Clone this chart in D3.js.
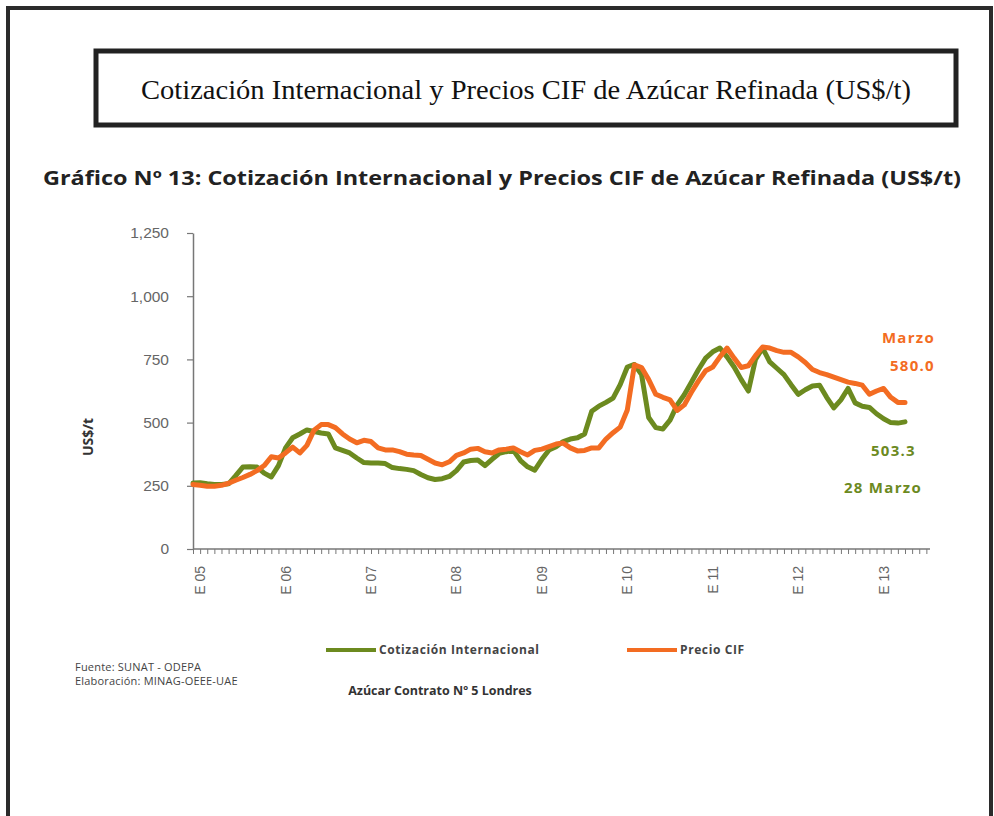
<!DOCTYPE html>
<html><head><meta charset="utf-8">
<script src="https://cdn.jsdelivr.net/npm/d3@7"></script>
<style>
html,body{margin:0;padding:0;background:#fff;}
svg{display:block;}
</style></head>
<body>
<svg id="c" width="994" height="816"></svg>
<script>
// ---- data (monthly, Dic 2004 .. Abr 2013) ----
const months = (function(){const a=[];let y=2004,m=12;for(let i=0;i<101;i++){a.push(y+"-"+String(m).padStart(2,"0"));m++;if(m>12){m=1;y++;}}return a;})();
const cotizacion = [261,262,258,255,255,258,290,324,325,324,300,285,330,400,440,455,471,465,459,455,
400,390,380,360,342,340,340,338,322,318,315,310,295,282,275,278,287,310,344,350,
352,330,355,378,385,390,350,325,312,355,392,405,425,435,440,455,545,565,580,597,
650,720,730,690,520,480,475,510,570,610,660,710,755,780,795,760,720,670,625,750,
795,740,715,690,650,612,630,645,648,600,558,590,635,578,565,560,535,515,500,498,503];
const precioCIF = [255,252,248,248,252,260,272,283,295,310,330,365,360,380,403,380,410,470,492,492,
480,455,435,420,430,425,400,392,392,385,375,372,370,355,340,333,345,370,380,395,
398,385,380,392,395,400,385,372,390,395,405,415,419,400,388,390,400,400,435,460,
482,550,728,718,670,612,600,590,548,570,620,665,705,720,760,795,755,718,725,765,
799,795,785,778,778,760,738,710,698,690,680,670,660,655,648,612,625,635,600,580,580];
const yTicks = [0,250,500,750,1000,1250];
const yearLabels = ["E 05","E 06","E 07","E 08","E 09","E 10","E 11","E 12","E 13"];
const seriesNames = ["Cotización Internacional","Precio CIF"];
const colors = ["#6c8a1f","#f36c22"];

const svg = d3.select("#c");
const SANS = "'Open Sans',Lato,sans-serif";

// outer frame
svg.append("rect").attr("x",8).attr("y",8).attr("width",983).attr("height",830)
  .attr("fill","none").attr("stroke","#2b2b2b").attr("stroke-width",4);

// title box
svg.append("rect").attr("x",96).attr("y",51).attr("width",860).attr("height",74)
  .attr("fill","#fff").attr("stroke","#222").attr("stroke-width",5);
svg.append("text").attr("x",526).attr("y",99).attr("text-anchor","middle")
  .attr("font-family","'Liberation Serif','DejaVu Serif',serif").attr("font-size",28)
  .attr("textLength",770).attr("lengthAdjust","spacingAndGlyphs")
  .attr("fill","#111").text("Cotización Internacional y Precios CIF de Azúcar Refinada (US$/t)");

// chart title
svg.append("text").attr("x",502).attr("y",185).attr("text-anchor","middle")
  .attr("font-family",SANS).attr("font-weight","bold").attr("font-size",20)
  .attr("textLength",918).attr("lengthAdjust","spacingAndGlyphs")
  .attr("fill","#222").text("Gráfico Nº 13: Cotización Internacional y Precios CIF de Azúcar Refinada (US$/t)");

// scales
const x = d3.scaleLinear().domain([0,100]).range([193,905]);
const y = d3.scaleLinear().domain([0,1250]).range([549,233]);

// y axis
const yAxis = svg.append("g").attr("transform","translate(193,0)")
  .call(d3.axisLeft(y).tickValues(yTicks).tickFormat(d3.format(",")).tickSize(6).tickSizeOuter(0).tickPadding(18));
yAxis.select(".domain").attr("stroke","#777").attr("stroke-width",1.5);
yAxis.selectAll(".tick line").attr("stroke","#777").attr("stroke-width",1.2);
yAxis.selectAll(".tick text").attr("font-family","Arial,'Liberation Sans',sans-serif").attr("font-size",15.5).attr("fill","#666");

// x axis (monthly ticks)
const xTickVals = d3.range(0,104);
const xAxis = svg.append("g").attr("transform","translate(0,549)")
  .call(d3.axisBottom(x).tickValues(xTickVals).tickFormat("").tickSize(5).tickSizeOuter(0));
xAxis.select(".domain").attr("stroke","#777").attr("stroke-width",1.5).attr("d","M193,0H930");
xAxis.selectAll(".tick line").attr("stroke","#777").attr("stroke-width",1);

// year labels
svg.append("g").selectAll("text").data(yearLabels).join("text")
  .attr("transform",(d,i)=>`translate(${x(1+12*i)+5},566) rotate(-90)`)
  .attr("text-anchor","end")
  .attr("font-family","Arial,'Liberation Sans',sans-serif").attr("font-size",14).attr("fill","#666")
  .text(d=>d);

// y label
svg.append("text").attr("transform","translate(93,437) rotate(-90)").attr("text-anchor","middle")
  .attr("font-family",SANS).attr("font-weight","bold").attr("font-size",14)
  .attr("fill","#333").text("US$/t");

// lines
const line = d3.line().x((d,i)=>x(i)).y(d=>y(d)).curve(d3.curveLinear);
[cotizacion, precioCIF].forEach((s,si)=>{
  svg.append("path").datum(s).attr("d",line).attr("fill","none")
    .attr("stroke",colors[si]).attr("stroke-width",5).attr("stroke-linejoin","round").attr("stroke-linecap","round");
});

// annotations
const ann = [
  {t:"Marzo", x:935, y:343, c:colors[1]},
  {t:"580.0", x:935, y:371, c:colors[1]},
  {t:"503.3", x:916, y:456, c:colors[0]},
  {t:"28 Marzo", x:922, y:493, c:colors[0]}
];
svg.append("g").selectAll("text").data(ann).join("text")
  .attr("x",d=>d.x).attr("y",d=>d.y).attr("text-anchor","end")
  .attr("font-family",SANS).attr("font-weight","bold").attr("font-size",15)
  .attr("letter-spacing",1.3).attr("fill",d=>d.c).text(d=>d.t);

// legend
const leg = [{x:326},{x:627}];
leg.forEach((l,i)=>{
  svg.append("line").attr("x1",l.x).attr("x2",l.x+50).attr("y1",650).attr("y2",650)
    .attr("stroke",colors[i]).attr("stroke-width",4);
  svg.append("text").attr("x",l.x+53).attr("y",654)
    .attr("font-family",SANS).attr("font-weight","bold").attr("font-size",12)
    .attr("letter-spacing",0.6).attr("fill","#444").text(seriesNames[i]);
});

// source
svg.append("text").attr("x",75).attr("y",671).attr("font-family",SANS)
  .attr("font-size",11).attr("letter-spacing",0.2).attr("fill","#444").text("Fuente: SUNAT - ODEPA");
svg.append("text").attr("x",75).attr("y",685).attr("font-family",SANS)
  .attr("font-size",11).attr("letter-spacing",0.2).attr("fill","#444").text("Elaboración: MINAG-OEEE-UAE");
svg.append("text").attr("x",440).attr("y",695).attr("text-anchor","middle").attr("font-family",SANS)
  .attr("font-weight","bold").attr("font-size",12.5).attr("fill","#333").text("Azúcar Contrato Nº 5 Londres");
</script>
</body></html>
